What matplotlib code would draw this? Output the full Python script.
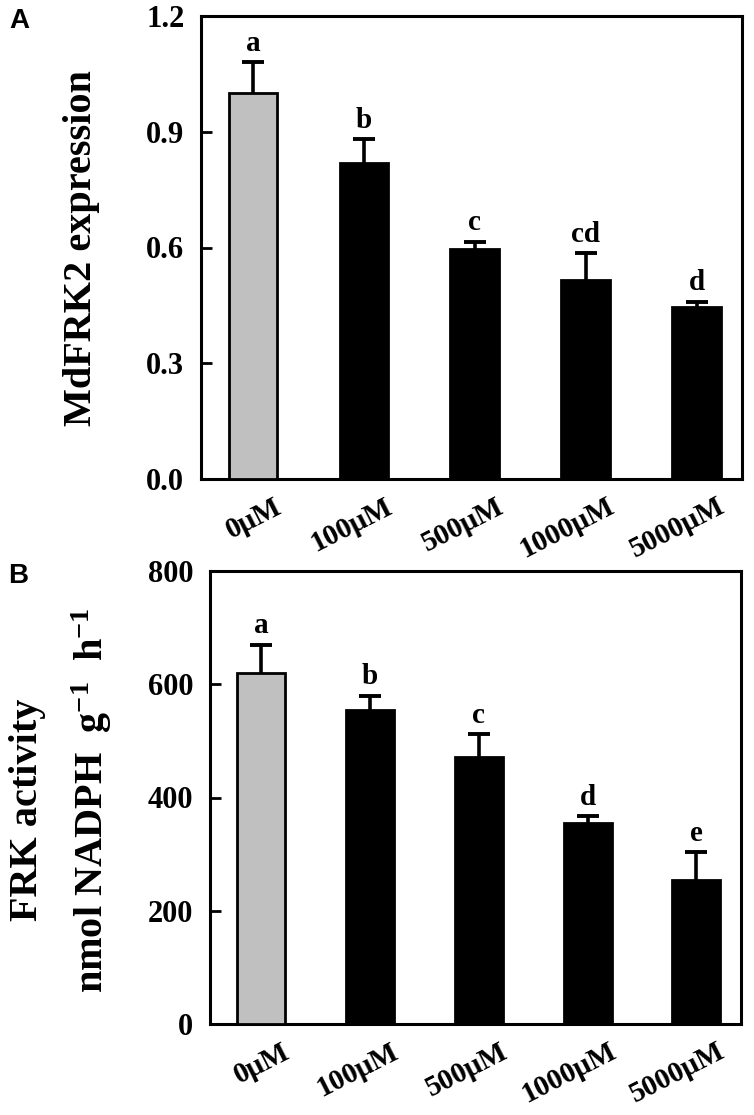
import numpy as np
import matplotlib
matplotlib.use("Agg")
import matplotlib.pyplot as plt
from matplotlib.transforms import ScaledTranslation

plt.rcParams['font.family'] = ['Liberation Serif', 'DejaVu Serif']
plt.rcParams['font.weight'] = 'bold'
plt.rcParams['mathtext.fontset'] = 'custom'
plt.rcParams['mathtext.rm'] = 'Liberation Serif:bold'
plt.rcParams['mathtext.bf'] = 'Liberation Serif:bold'
plt.rcParams['mathtext.it'] = 'Liberation Serif:bold:italic'
plt.rcParams['mathtext.default'] = 'rm'

# ---- data ----
concentrations = ['0μM', '100μM', '500μM', '1000μM', '5000μM']
bar_colors = ['#c0c0c0', 'black', 'black', 'black', 'black']

expr_mean = [1.00, 0.82, 0.595, 0.515, 0.445]
expr_err = [0.08, 0.06, 0.02, 0.07, 0.015]
expr_letters = ['a', 'b', 'c', 'cd', 'd']
expr_ticks = [0.0, 0.3, 0.6, 0.9, 1.2]
expr_ticklabels = ['0.0', '0.3', '0.6', '0.9', '1.2']

frk_mean = [620, 555, 472, 355, 255]
frk_err = [50, 25, 40, 12, 48]
frk_letters = ['a', 'b', 'c', 'd', 'e']
frk_ticks = [0, 200, 400, 600, 800]
frk_ticklabels = ['0', '200', '400', '600', '800']

W, H = 754, 1115
fig = plt.figure(figsize=(W / 100, H / 100), dpi=100)
axA = fig.add_axes([201 / W, 1 - 479 / H, (742 - 201) / W, (479 - 16) / H])
axB = fig.add_axes([210 / W, 1 - 1024 / H, (741 - 210) / W, (1024 - 571) / H])


def draw(ax, means, errs, letters, ticks, ticklabels, ylim):
    x = np.arange(len(concentrations))
    ax.bar(x, means, width=0.44, color=bar_colors, edgecolor='black',
           linewidth=2.0, zorder=3)
    ax.errorbar(x, means, yerr=errs, fmt='none', ecolor='black',
                elinewidth=2.6, capsize=8, capthick=2.8, zorder=2)
    for xi, m, e, lt in zip(x, means, errs, letters):
        ax.annotate(lt, (xi, m + e), xytext=(0, 4), textcoords='offset points',
                    ha='center', va='bottom', fontsize=21, fontweight='bold')
    ax.set_xlim(-0.47, 4.41)
    ax.set_ylim(*ylim)
    ax.set_yticks(ticks)
    ax.set_yticklabels(ticklabels)
    ax.set_xticks(x)
    ax.set_xticklabels(concentrations, rotation=27, ha='right', va='top')
    ax.tick_params(axis='y', direction='in', length=8, width=2.0,
                   labelsize=22, pad=12)
    ax.tick_params(axis='x', length=0, labelsize=21, pad=10)
    for s in ax.spines.values():
        s.set_linewidth(2.2)
    for lab in ax.get_xticklabels():
        lab.set_fontweight('bold')
        lab.set_transform(lab.get_transform() +
                          ScaledTranslation(0.33, 0, fig.dpi_scale_trans))
    for lab in ax.get_yticklabels():
        lab.set_fontweight('bold')


draw(axA, expr_mean, expr_err, expr_letters, expr_ticks, expr_ticklabels, (0, 1.2))
draw(axB, frk_mean, frk_err, frk_letters, frk_ticks, frk_ticklabels, (0, 800))

fig.text(82 / W, 1 - 248 / H, 'MdFRK2 expression', rotation=90,
         ha='center', va='center', fontsize=29, fontweight='bold')
fig.text(27 / W, 1 - 810 / H, 'FRK activity', rotation=90,
         ha='center', va='center', fontsize=29, fontweight='bold')
fig.text(92 / W, 1 - 800 / H, r'nmol NADPH  g$^{-1}$  h$^{-1}$', rotation=90,
         ha='center', va='center', fontsize=29, fontweight='bold')

fig.text(9 / W, 1 - 8 / H, 'A', ha='left', va='top', fontsize=20,
         fontweight='bold', family=['Liberation Sans', 'DejaVu Sans'])
fig.text(8 / W, 1 - 563 / H, 'B', ha='left', va='top', fontsize=20,
         fontweight='bold', family=['Liberation Sans', 'DejaVu Sans'])

fig.savefig('out.png', dpi=100)
